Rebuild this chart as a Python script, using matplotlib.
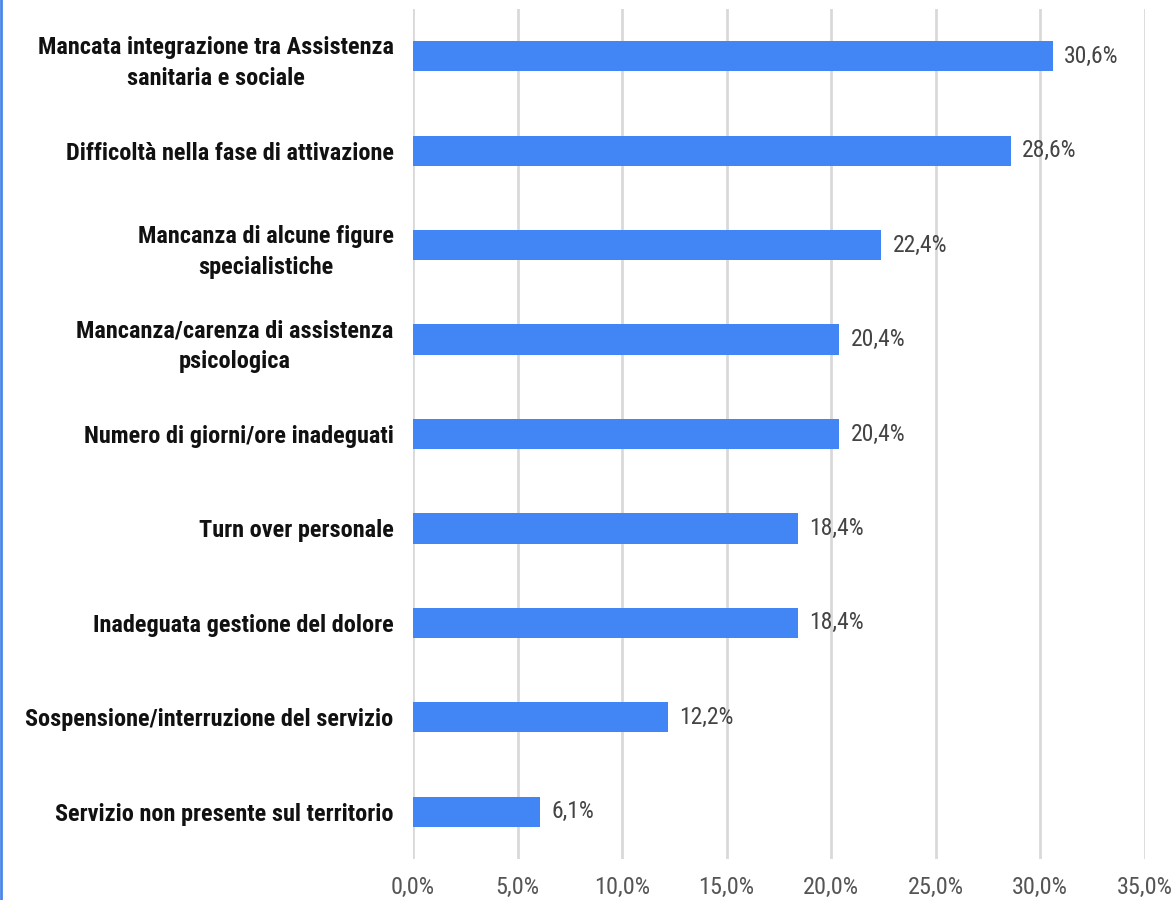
import matplotlib
matplotlib.use("Agg")
import matplotlib.pyplot as plt
from matplotlib.ticker import FuncFormatter
from matplotlib.lines import Line2D

categories = [
    "Mancata integrazione tra Assistenza\nsanitaria e sociale",
    "Difficoltà nella fase di attivazione",
    "Mancanza di alcune figure\nspecialistiche",
    "Mancanza/carenza di assistenza\npsicologica",
    "Numero di giorni/ore inadeguati",
    "Turn over personale",
    "Inadeguata gestione del dolore",
    "Sospensione/interruzione del servizio",
    "Servizio non presente sul territorio",
]
values = [30.6, 28.6, 22.4, 20.4, 20.4, 18.4, 18.4, 12.2, 6.1]
xticks = [0, 5, 10, 15, 20, 25, 30, 35]

fam = ["Liberation Sans Narrow", "Roboto Condensed", "DejaVu Sans"]
plt.rcParams['font.family'] = fam

fig = plt.figure(figsize=(11.76, 9), dpi=100)
ax = fig.add_axes([413 / 1176, 1 - 859 / 900, (1144.5 - 413) / 1176, 850 / 900])

ypos = list(range(len(categories)))
ax.barh(ypos, values, height=0.32, color="#4285F4", zorder=3)
ax.set_ylim(len(categories) - 0.5, -0.5)
ax.set_xlim(0, 35)
ax.set_xticks(xticks)
ax.xaxis.set_major_formatter(FuncFormatter(lambda v, p: f"{v:.1f}".replace(".", ",") + "%"))
ax.grid(axis="x", color="#d9d9d9", linewidth=2, zorder=0)
ax.set_yticks(ypos)
ax.set_yticklabels(categories, fontsize=17.5, fontweight="bold", color="#111111",
                   linespacing=1.45)
for t in ax.get_yticklabels():
    t.set_multialignment("center")
ax.tick_params(axis="y", length=0, pad=14)
ax.tick_params(axis="x", length=0, pad=12, labelsize=17.5, labelcolor="#555555")
for s in ax.spines.values():
    s.set_visible(False)

for y, v in zip(ypos, values):
    ax.text(v + 0.55, y, f"{v:.1f}".replace(".", ",") + "%", va="center", ha="left",
            fontsize=17, color="#444444")

fig.add_artist(Line2D([0.001, 0.001], [0, 1], transform=fig.transFigure,
                      color="#4a86e8", linewidth=2))

fig.savefig("out.png", dpi=100)
